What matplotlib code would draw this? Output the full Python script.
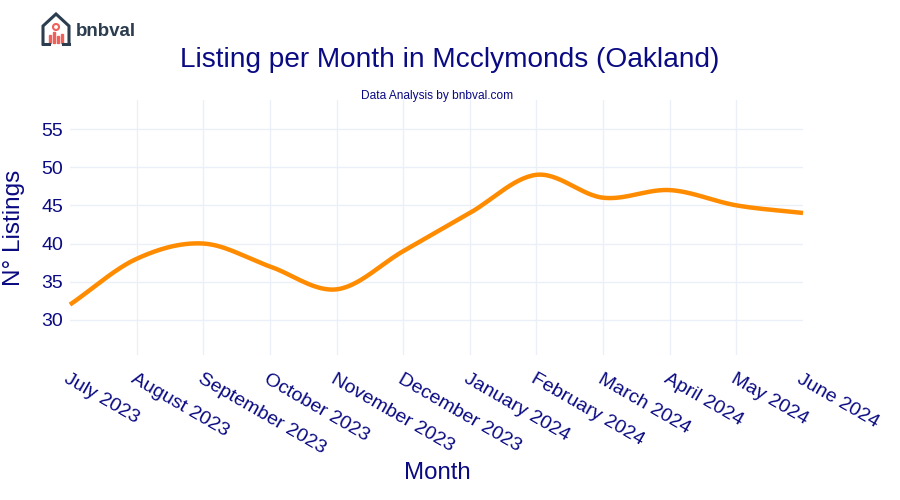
import numpy as np
import matplotlib
matplotlib.use("Agg")
import matplotlib.pyplot as plt
from matplotlib.patches import Rectangle, Circle
from matplotlib.lines import Line2D

months = ["July 2023", "August 2023", "September 2023", "October 2023", "November 2023",
          "December 2023", "January 2024", "February 2024", "March 2024", "April 2024",
          "May 2024", "June 2024"]
listings = [32, 38, 40, 37, 34, 39, 44, 49, 46, 47, 45, 44]
yticks = [30, 35, 40, 45, 50, 55]

plt.rcParams['font.family'] = ['Liberation Sans', 'DejaVu Sans']
NAVY = '#0a0a82'
GRID = '#EBF0F8'

def spline(xs, ys, n=30, t=0.5):
    xs = np.asarray(xs, float); ys = np.asarray(ys, float)
    P = np.column_stack([xs, ys])
    P = np.vstack([P[0] - (P[1] - P[0]), P, P[-1] + (P[-1] - P[-2])])
    out = []
    for i in range(1, len(P) - 2):
        p0, p1, p2, p3 = P[i-1], P[i], P[i+1], P[i+2]
        m1 = t * (p2 - p0); m2 = t * (p3 - p1)
        s = np.linspace(0, 1, n, endpoint=(i == len(P) - 3))[:, None]
        h00 = 2*s**3 - 3*s**2 + 1; h10 = s**3 - 2*s**2 + s
        h01 = -2*s**3 + 3*s**2; h11 = s**3 - s**2
        out.append(h00*p1 + h10*m1 + h01*p2 + h11*m2)
    out = np.vstack(out)
    return out[:, 0], out[:, 1]

fig = plt.figure(figsize=(9, 5), dpi=100)
ax = fig.add_axes([70/900, 1-355/500, (803-70)/900, (355-100)/500])
x = np.arange(len(months))
sx, sy = spline(x, listings)
ax.plot(sx, sy, color='#FF8C00', lw=3.2, solid_capstyle='butt', zorder=3, clip_on=False)

ax.set_xlim(0, len(months) - 1)
ax.set_ylim(25.4, 58.8)
ax.set_yticks(yticks)
ax.set_xticks(x)
ax.set_xticklabels(months, rotation=-30, ha='left', va='top', rotation_mode='anchor')
ax.tick_params(axis='both', length=0, labelsize=14, colors=NAVY)
ax.tick_params(axis='x', pad=11)
ax.tick_params(axis='y', pad=5)
ax.grid(True, color=GRID, lw=1)
ax.set_axisbelow(True)
for s in ax.spines.values():
    s.set_visible(False)
xgl = ax.get_xgridlines()
xgl[0].set_visible(False)
xgl[-1].set_visible(False)

fig.text(14/900, 1-228/500, 'N° Listings', rotation=90, ha='center', va='center',
         fontsize=17.5, color=NAVY)
fig.text(437/900, 1-473/500, 'Month', ha='center', va='center', fontsize=17.3, color=NAVY)
fig.text(450/900, 1-60/500, 'Listing per Month in Mcclymonds (Oakland)', ha='center', va='center',
         fontsize=20.2, color=NAVY)
fig.text(437/900, 1-96/500, 'Data Analysis by bnbval.com', ha='center', va='center',
         fontsize=8.6, color=NAVY)

# logo
lg = fig.add_axes([40/900, 1-46/500, 32/900, 34/500])
lg.set_xlim(0, 32); lg.set_ylim(0, 34); lg.axis('off')
dark = '#2b3d4f'; red = '#f0605a'
lg.add_line(Line2D([3, 3, 16, 29, 29], [2, 20, 32, 20, 2], color=dark, lw=2.2, solid_joinstyle='miter'))
lg.add_line(Line2D([3, 9], [2, 2], color=dark, lw=2.2))
lg.add_line(Line2D([23, 29], [2, 2], color=dark, lw=2.2))
for bx, bh in [(9, 8), (13, 11), (17, 7), (21, 9)]:
    lg.add_patch(Rectangle((bx, 3), 2.2, bh, color=red))
lg.add_patch(Circle((16, 19), 3, fill=False, ec=red, lw=1.5))
fig.text(76/900, 1-31/500, 'bnbval', ha='left', va='center', fontsize=13.5, color=dark,
         fontweight='bold')

fig.savefig('out.png', dpi=100)
